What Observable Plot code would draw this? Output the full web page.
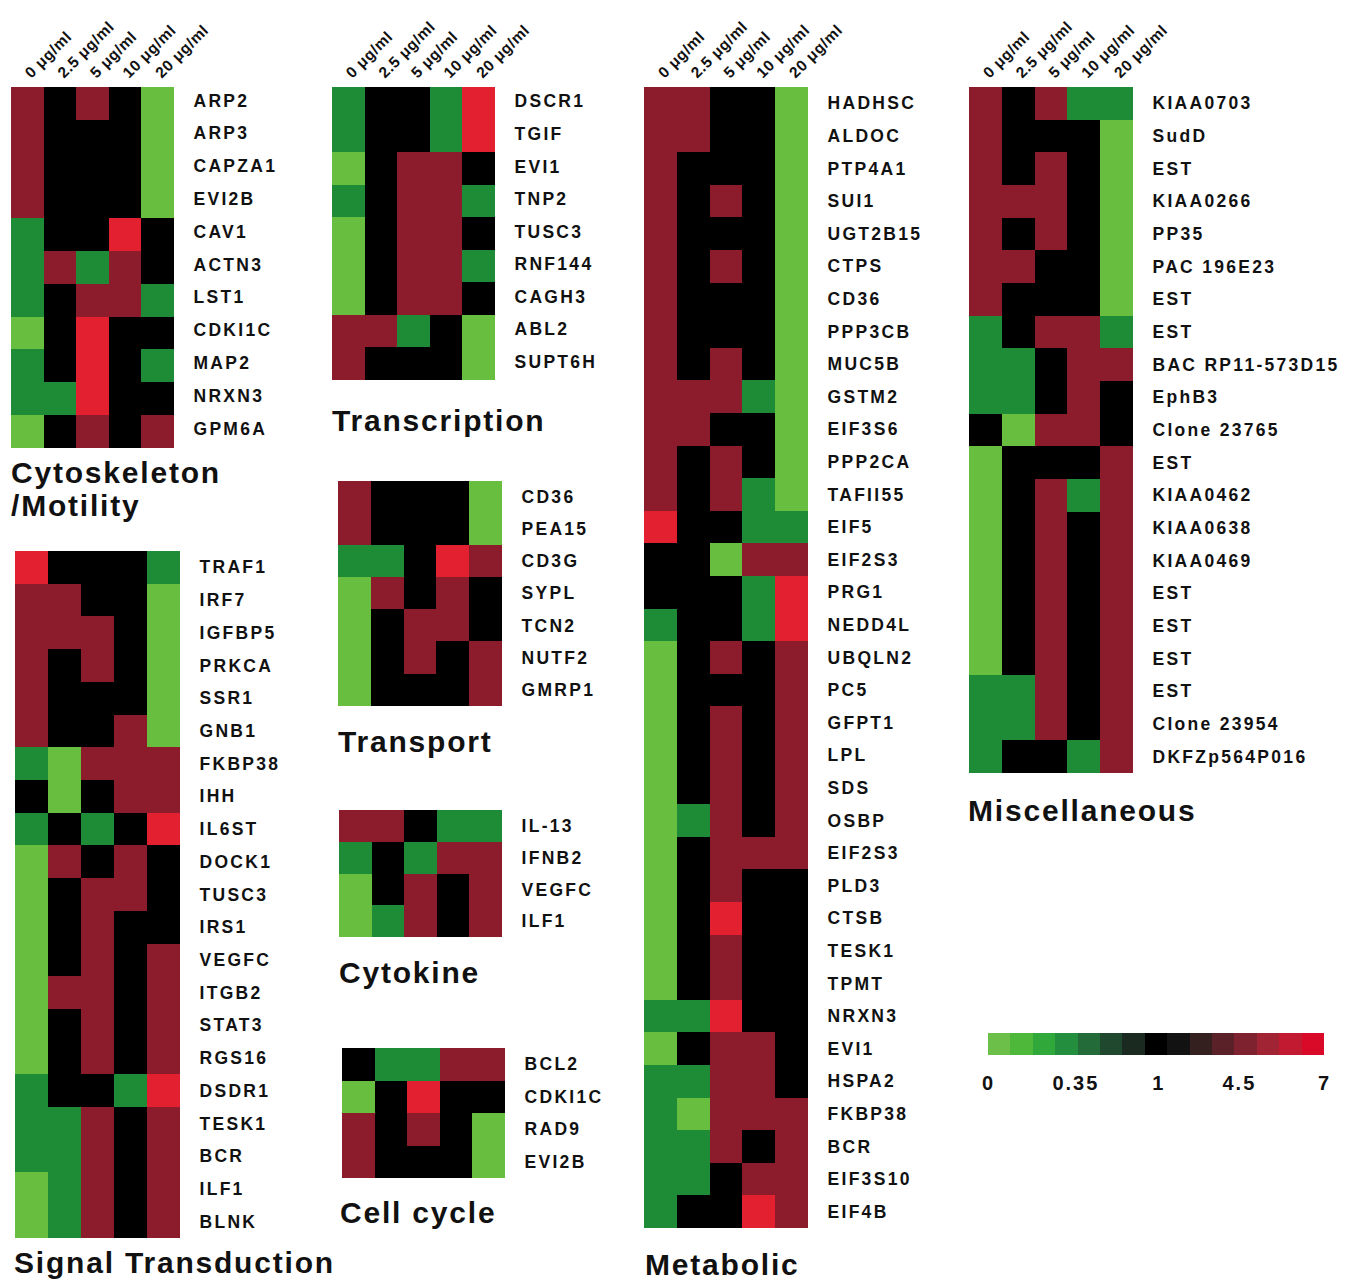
<!DOCTYPE html>
<html><head><meta charset="utf-8">
<script src="https://cdn.jsdelivr.net/npm/d3@7"></script>
<script src="https://cdn.jsdelivr.net/npm/@observablehq/plot@0.6"></script>
<style>
body{margin:0;background:#fff;}
#page{position:relative;width:1346px;height:1281px;overflow:hidden;background:#fff;font-family:"Liberation Sans",Arial,sans-serif;}
.title{position:absolute;font-weight:bold;font-size:30px;line-height:30px;letter-spacing:1.8px;color:#111;white-space:nowrap;}
</style></head><body><div id="page"></div>
<script>
// ---------- data ----------
const doses = ["0 μg/ml", "2.5 μg/ml", "5 μg/ml", "10 μg/ml", "20 μg/ml"];
const levelValues = [0, 0.35, 1, 4.5, 7];
const levelColors = ["#68bf3f", "#1e8c36", "#000000", "#8c1c2b", "#e3202f"];

const cytoGenes = ["ARP2","ARP3","CAPZA1","EVI2B","CAV1","ACTN3","LST1","CDKI1C","MAP2","NRXN3","GPM6A"];
const cytoValues = [
  [4.5,1,4.5,1,0],[4.5,1,1,1,0],[4.5,1,1,1,0],[4.5,1,1,1,0],
  [0.35,1,1,7,1],[0.35,4.5,0.35,4.5,1],[0.35,1,4.5,4.5,0.35],
  [0,1,7,1,1],[0.35,1,7,1,0.35],[0.35,0.35,7,1,1],[0,1,4.5,1,4.5]
];

const signalGenes = ["TRAF1","IRF7","IGFBP5","PRKCA","SSR1","GNB1","FKBP38","IHH","IL6ST","DOCK1","TUSC3","IRS1","VEGFC","ITGB2","STAT3","RGS16","DSDR1","TESK1","BCR","ILF1","BLNK"];
const signalValues = [
  [7,1,1,1,0.35],[4.5,4.5,1,1,0],[4.5,4.5,4.5,1,0],[4.5,1,4.5,1,0],[4.5,1,1,1,0],[4.5,1,1,4.5,0],
  [0.35,0,4.5,4.5,4.5],[1,0,1,4.5,4.5],[0.35,1,0.35,1,7],[0,4.5,1,4.5,1],[0,1,4.5,4.5,1],
  [0,1,4.5,1,1],[0,1,4.5,1,4.5],[0,4.5,4.5,1,4.5],[0,1,4.5,1,4.5],[0,1,4.5,1,4.5],
  [0.35,1,1,0.35,7],[0.35,0.35,4.5,1,4.5],[0.35,0.35,4.5,1,4.5],[0,0.35,4.5,1,4.5],[0,0.35,4.5,1,4.5]
];

const transcriptionGenes = ["DSCR1","TGIF","EVI1","TNP2","TUSC3","RNF144","CAGH3","ABL2","SUPT6H"];
const transcriptionValues = [
  [0.35,1,1,0.35,7],[0.35,1,1,0.35,7],[0,1,4.5,4.5,1],[0.35,1,4.5,4.5,0.35],[0,1,4.5,4.5,1],
  [0,1,4.5,4.5,0.35],[0,1,4.5,4.5,1],[4.5,4.5,0.35,1,0],[4.5,1,1,1,0]
];

const transportGenes = ["CD36","PEA15","CD3G","SYPL","TCN2","NUTF2","GMRP1"];
const transportValues = [
  [4.5,1,1,1,0],[4.5,1,1,1,0],[0.35,0.35,1,7,4.5],[0,4.5,1,4.5,1],[0,1,4.5,4.5,1],[0,1,4.5,1,4.5],[0,1,1,1,4.5]
];

const cytokineGenes = ["IL-13","IFNB2","VEGFC","ILF1"];
const cytokineValues = [[4.5,4.5,1,0.35,0.35],[0.35,1,0.35,4.5,4.5],[0,1,4.5,1,4.5],[0,0.35,4.5,1,4.5]];

const cellCycleGenes = ["BCL2","CDKI1C","RAD9","EVI2B"];
const cellCycleValues = [[1,0.35,0.35,4.5,4.5],[0,1,7,1,1],[4.5,1,4.5,1,0],[4.5,1,1,1,0]];

const metabolicGenes = ["HADHSC","ALDOC","PTP4A1","SUI1","UGT2B15","CTPS","CD36","PPP3CB","MUC5B","GSTM2","EIF3S6","PPP2CA","TAFII55","EIF5","EIF2S3","PRG1","NEDD4L","UBQLN2","PC5","GFPT1","LPL","SDS","OSBP","EIF2S3","PLD3","CTSB","TESK1","TPMT","NRXN3","EVI1","HSPA2","FKBP38","BCR","EIF3S10","EIF4B"];
const metabolicValues = [
  [4.5,4.5,1,1,0],[4.5,4.5,1,1,0],[4.5,1,1,1,0],[4.5,1,4.5,1,0],[4.5,1,1,1,0],[4.5,1,4.5,1,0],
  [4.5,1,1,1,0],[4.5,1,1,1,0],[4.5,1,4.5,1,0],[4.5,4.5,4.5,0.35,0],[4.5,4.5,1,1,0],[4.5,1,4.5,1,0],
  [4.5,1,4.5,0.35,0],[7,1,1,0.35,0.35],[1,1,0,4.5,4.5],[1,1,1,0.35,7],[0.35,1,1,0.35,7],
  [0,1,4.5,1,4.5],[0,1,1,1,4.5],[0,1,4.5,1,4.5],[0,1,4.5,1,4.5],[0,1,4.5,1,4.5],[0,0.35,4.5,1,4.5],
  [0,1,4.5,4.5,4.5],[0,1,4.5,1,1],[0,1,7,1,1],[0,1,4.5,1,1],[0,1,4.5,1,1],[0.35,0.35,7,1,1],
  [0,1,4.5,4.5,1],[0.35,0.35,4.5,4.5,1],[0.35,0,4.5,4.5,4.5],[0.35,0.35,4.5,1,4.5],[0.35,0.35,1,4.5,4.5],[0.35,1,1,7,4.5]
];

const miscGenes = ["KIAA0703","SudD","EST","KIAA0266","PP35","PAC 196E23","EST","EST","BAC RP11-573D15","EphB3","Clone 23765","EST","KIAA0462","KIAA0638","KIAA0469","EST","EST","EST","EST","Clone 23954","DKFZp564P016"];
const miscValues = [
  [4.5,1,4.5,0.35,0.35],[4.5,1,1,1,0],[4.5,1,4.5,1,0],[4.5,4.5,4.5,1,0],[4.5,1,4.5,1,0],[4.5,4.5,1,1,0],
  [4.5,1,1,1,0],[0.35,1,4.5,4.5,0.35],[0.35,0.35,1,4.5,4.5],[0.35,0.35,1,4.5,1],[1,0,4.5,4.5,1],
  [0,1,1,1,4.5],[0,1,4.5,0.35,4.5],[0,1,4.5,1,4.5],[0,1,4.5,1,4.5],[0,1,4.5,1,4.5],[0,1,4.5,1,4.5],
  [0,1,4.5,1,4.5],[0.35,0.35,4.5,1,4.5],[0.35,0.35,4.5,1,4.5],[0.35,1,1,0.35,4.5]
];

const legendColors = ["#6cc04a","#4db83a","#30a83a","#238e3e","#236c3a","#20482e","#1a2a20","#000000","#121212","#33201f","#5a2228","#7e2230","#a02434","#c21a30","#d80a28"];
const legendTicks = [0, 3.9, 7.6, 11.2, 15];
const legendLabels = ["0", "0.35", "1", "4.5", "7"];

// ---------- drawing ----------
const page = document.getElementById("page");
const FONT = '"Liberation Sans", Arial, sans-serif';

function heatmap(genes, values, L) {
  const cells = [];
  genes.forEach((g, i) => values[i].forEach((v, j) => cells.push({row: i, dose: doses[j], v})));
  const mt = L.header ? L.top : 0;
  const h = genes.length * L.rowH;
  const mr = 220;
  const marks = [
    Plot.cell(cells, {x: "dose", y: "row", fill: "v", inset: 0, shapeRendering: "crispEdges"}),
    Plot.axisY({anchor: "right", tickSize: 0, tickPadding: 19, tickFormat: i => genes[i], label: null, fontSize: 17.5, dy: L.dy || 0})
  ];
  if (L.header) marks.push(Plot.axisX({anchor: "top", tickSize: 0, tickPadding: 12, tickRotate: -45, textAnchor: "start", label: null, fontSize: 15.5}));
  const svg = Plot.plot({
    width: L.w + mr, height: mt + h,
    marginLeft: 0, marginRight: mr, marginTop: mt, marginBottom: 0,
    style: {fontFamily: FONT, fontWeight: "bold", fontSize: "17px", letterSpacing: "2.3px", color: "#111", background: "transparent", overflow: "visible"},
    x: {domain: doses, padding: 0, round: false, axis: L.header ? undefined : null},
    y: {domain: d3.range(genes.length), padding: 0, round: false},
    color: {type: "linear", domain: levelValues, range: levelColors},
    marks
  });
  svg.querySelectorAll('g[aria-label="x-axis tick label"]').forEach(g => g.style.letterSpacing = "0.6px");
  svg.style.position = "absolute";
  svg.style.left = L.left + "px";
  svg.style.top = (L.header ? 0 : L.top) + "px";
  page.appendChild(svg);
}

function title(text, left, baseline) {
  const d = document.createElement("div");
  d.className = "title";
  d.textContent = text;
  d.style.left = left + "px";
  d.style.top = (baseline - 25) + "px";
  page.appendChild(d);
}

heatmap(cytoGenes, cytoValues, {left: 11, top: 87, w: 163, rowH: 32.8, header: true, dy: -3});
heatmap(signalGenes, signalValues, {left: 15, top: 551, w: 165, rowH: 32.71});
heatmap(transcriptionGenes, transcriptionValues, {left: 332, top: 87, w: 163, rowH: 32.56, header: true, dy: -2});
heatmap(transportGenes, transportValues, {left: 338, top: 481, w: 164, rowH: 32.1});
heatmap(cytokineGenes, cytokineValues, {left: 339, top: 810, w: 163, rowH: 31.8});
heatmap(cellCycleGenes, cellCycleValues, {left: 342, top: 1048, w: 163, rowH: 32.5});
heatmap(metabolicGenes, metabolicValues, {left: 644, top: 87, w: 164, rowH: 32.6, header: true});
heatmap(miscGenes, miscValues, {left: 969, top: 87, w: 164, rowH: 32.67, header: true});

title("Cytoskeleton", 11, 483);
title("/Motility", 11, 516);
title("Signal Transduction", 14, 1273);
title("Transcription", 332, 431);
title("Transport", 338, 752);
title("Cytokine", 339, 983);
title("Cell cycle", 340, 1223);
title("Metabolic", 645, 1275);
title("Miscellaneous", 968, 821);

// legend
const legend = Plot.plot({
  width: 336 + 40, height: 22 + 45,
  marginLeft: 20, marginRight: 20, marginTop: 0, marginBottom: 45,
  style: {fontFamily: FONT, fontWeight: "bold", fontSize: "20px", letterSpacing: "2px", color: "#111", background: "transparent", overflow: "visible"},
  x: {domain: [0, 15]},
  y: {domain: [0, 1], axis: null},
  color: {type: "identity"},
  marks: [
    Plot.rect(legendColors.map((c, i) => ({i, c})), {x1: "i", x2: d => d.i + 1, y1: () => 0, y2: () => 1, fill: "c", inset: 0, shapeRendering: "crispEdges"}),
    Plot.axisX({ticks: legendTicks, tickFormat: d => legendLabels[legendTicks.indexOf(d)], tickSize: 0, tickPadding: 20, fontSize: 20, label: null})
  ]
});
legend.style.position = "absolute";
legend.style.left = "968px";
legend.style.top = "1033px";
page.appendChild(legend);
</script>
</body></html>
